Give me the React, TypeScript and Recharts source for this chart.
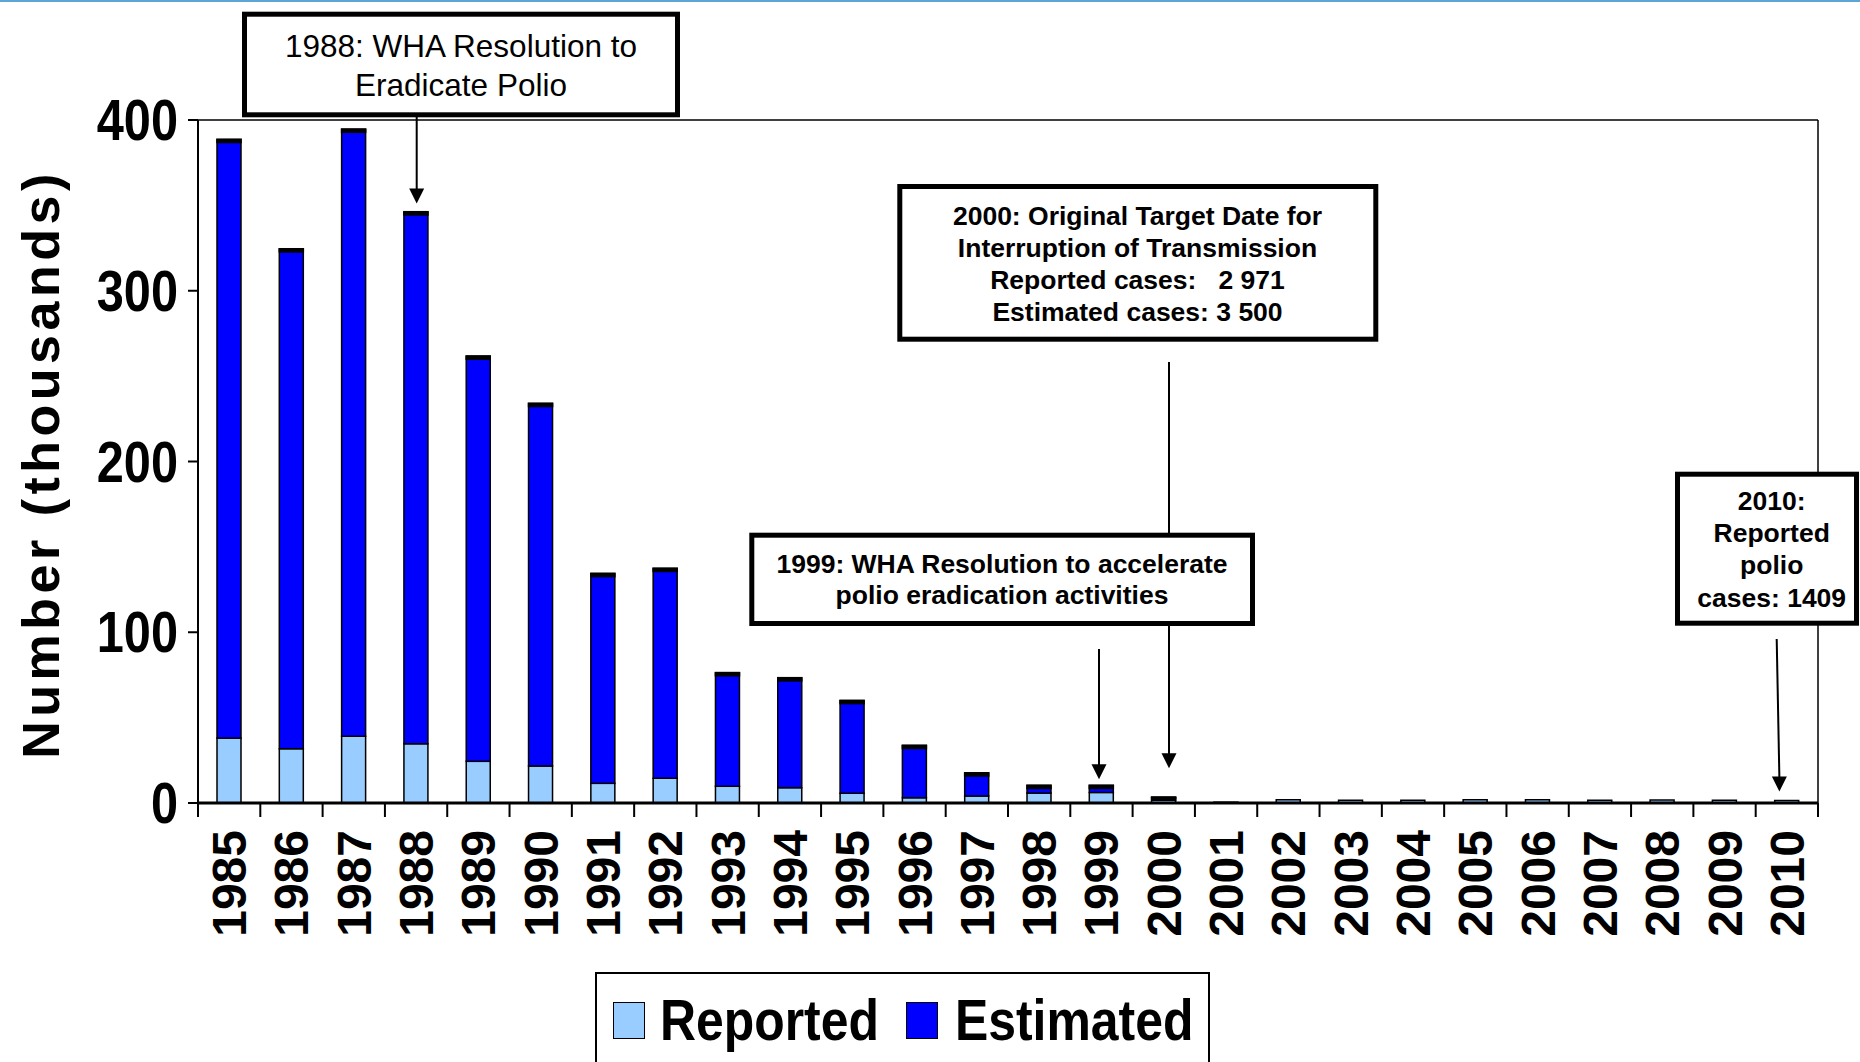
import React from 'react';
import { BarChart, Bar, XAxis, YAxis, ReferenceLine, Legend } from 'recharts';

// años y casos (miles)
const years = [
  '1985', '1986', '1987', '1988', '1989', '1990', '1991', '1992', '1993',
  '1994', '1995', '1996', '1997', '1998', '1999', '2000', '2001', '2002',
  '2003', '2004', '2005', '2006', '2007', '2008', '2009', '2010',
];
const reported = [
  38.0, 31.8, 39.1, 34.7, 24.4, 21.7, 11.5, 14.5, 9.8, 9.0, 5.7, 3.1, 4.1,
  5.8, 6.2, 3.0, 0.5, 1.9, 1.6, 1.6, 1.9, 1.9, 1.6, 1.7, 1.6, 1.4,
];
const estimated = [
  388.7, 324.6, 394.7, 346.3, 261.8, 234.1, 134.5, 137.5, 76.4, 73.4, 60.1,
  33.8, 17.7, 10.4, 10.4, 3.5, 0.5, 1.9, 1.6, 1.6, 1.9, 1.9, 1.6, 1.7, 1.6,
  1.4,
];
const yTicks = [0, 100, 200, 300, 400];
const legendOrder = ['Reported', 'Estimated'];

const data = years.map((y, i) => ({
  year: y,
  Reported: reported[i],
  Estimated: Math.max(0, estimated[i] - reported[i]),
}));

const W = 1860;
const H = 1062;
const PLOT_LEFT = 198;
const PLOT_RIGHT = 1818;
const PLOT_TOP = 120;
const PLOT_BOTTOM = 803;
const STEP = (PLOT_RIGHT - PLOT_LEFT) / years.length;

const SANS = "'Liberation Sans', Arial, sans-serif";

function YearTick(props: any) {
  const { x, payload, index } = props;
  const last = index === years.length - 1;
  return (
    <g>
      <line x1={x - STEP / 2} x2={x - STEP / 2} y1={PLOT_BOTTOM} y2={PLOT_BOTTOM + 14} stroke="#000" strokeWidth={2} />
      {last && (
        <line x1={x + STEP / 2} x2={x + STEP / 2} y1={PLOT_BOTTOM} y2={PLOT_BOTTOM + 14} stroke="#000" strokeWidth={2} />
      )}
      <text
        transform={`translate(${x + 17},${PLOT_BOTTOM + 27}) rotate(-90)`}
        textAnchor="end"
        fontFamily={SANS}
        fontWeight={700}
        fontSize={48}
        fill="#000"
      >
        {payload.value}
      </text>
    </g>
  );
}

// etiquetas del eje Y en negrita estrecha
function ValueTick(props: any) {
  const { x, y, payload } = props;
  return (
    <text
      transform={`translate(${x},${y + 20}) scale(0.84,1)`}
      textAnchor="end"
      fontFamily={SANS}
      fontWeight={700}
      fontSize={58}
      fill="#000"
    >
      {payload.value}
    </text>
  );
}

// barra estimada con el borde superior grueso negro
function EstimatedShape(props: any) {
  const { x, y, width, height, fill } = props;
  if (!height || height <= 0) return <g />;
  return (
    <g>
      <rect x={x} y={y} width={width} height={height} fill={fill} stroke="#000" strokeWidth={1.5} />
      <rect x={x - 0.75} y={y - 0.5} width={width + 1.5} height={4.5} fill="#000" />
    </g>
  );
}

function LegendBox(props: any) {
  const items = props.payload || [];
  const ordered = legendOrder
    .map((n) => items.find((it: any) => it.value === n))
    .filter(Boolean);
  return (
    <div
      style={{
        position: 'relative',
        width: 615,
        height: 100,
        boxSizing: 'border-box',
        border: '2px solid #000',
        background: '#fff',
      }}
    >
      {ordered.map((it: any, i: number) => (
        <React.Fragment key={it.value}>
          <div
            style={{
              position: 'absolute',
              left: i === 0 ? 16 : 309,
              top: 28,
              width: 32,
              height: 37,
              boxSizing: 'border-box',
              background: it.color,
              border: '1.5px solid #000',
            }}
          />
          <span
            style={{
              position: 'absolute',
              left: i === 0 ? 63 : 358,
              top: 13,
              fontFamily: SANS,
              fontWeight: 700,
              fontSize: 58,
              lineHeight: '66px',
              color: '#000',
              whiteSpace: 'nowrap',
              transform: 'scaleX(0.86)',
              transformOrigin: 'left center',
            }}
          >
            {it.value}
          </span>
        </React.Fragment>
      ))}
    </div>
  );
}

function Arrow({ x1, y1, x2, y2 }: { x1: number; y1: number; x2: number; y2: number }) {
  const head = 15;
  return (
    <g>
      <line x1={x1} y1={y1} x2={x2} y2={y2 - head + 2} stroke="#000" strokeWidth={2} />
      <polygon points={`${x2 - 7.5},${y2 - head} ${x2 + 7.5},${y2 - head} ${x2},${y2}`} fill="#000" />
    </g>
  );
}

function NoteBox({
  x, y, w, h, lines, cx, baselines, size, bold,
}: {
  x: number; y: number; w: number; h: number; lines: string[]; cx: number;
  baselines: number[]; size: number; bold: boolean;
}) {
  return (
    <g>
      <rect x={x} y={y} width={w} height={h} fill="#fff" stroke="#000" strokeWidth={5} />
      {lines.map((l, i) => (
        <text
          key={i}
          x={cx}
          y={baselines[i]}
          textAnchor="middle"
          fontFamily={SANS}
          fontWeight={bold ? 700 : 400}
          fontSize={size}
          fill="#000"
          style={{ whiteSpace: 'pre' }}
        >
          {l}
        </text>
      ))}
    </g>
  );
}

export default function App() {
  return (
    <div style={{ position: 'relative', width: W, height: H, background: '#fff' }}>
      <style>{'body{margin:0;overflow:hidden;background:#fff}'}</style>
      <BarChart
        width={W}
        height={H}
        data={data}
        margin={{ top: PLOT_TOP, right: W - PLOT_RIGHT, left: 0, bottom: 0 }}
        barSize={24}
      >
        <XAxis
          dataKey="year"
          height={H - PLOT_BOTTOM}
          interval={0}
          tickLine={false}
          tickSize={0}
          tickMargin={0}
          axisLine={{ stroke: '#000', strokeWidth: 3 }}
          tick={<YearTick />}
        />
        <YAxis
          domain={[0, 400]}
          ticks={yTicks}
          width={PLOT_LEFT}
          tickSize={10}
          tickMargin={10}
          axisLine={{ stroke: '#000', strokeWidth: 2 }}
          tickLine={{ stroke: '#000', strokeWidth: 2 }}
          tick={<ValueTick />}
        />
        <ReferenceLine y={400} stroke="#000" strokeWidth={1.5} />
        <Legend
          layout="horizontal"
          verticalAlign="middle"
          align="center"
          wrapperStyle={{ left: 595, top: 972, width: 615, height: 100 }}
          content={<LegendBox />}
        />
        <Bar
          dataKey="Reported"
          stackId="a"
          fill="#99CCFF"
          stroke="#000"
          strokeWidth={1.5}
          isAnimationActive={false}
        />
        <Bar
          dataKey="Estimated"
          stackId="a"
          fill="#0000FF"
          shape={<EstimatedShape />}
          isAnimationActive={false}
        />
      </BarChart>

      <svg
        width={W}
        height={H}
        style={{ position: 'absolute', left: 0, top: 0, pointerEvents: 'none' }}
      >
        <rect x={0} y={0} width={W} height={2} fill="#5DA5D6" />
        {/* borde derecho del área de trazado */}
        <line x1={PLOT_RIGHT} x2={PLOT_RIGHT} y1={PLOT_TOP} y2={PLOT_BOTTOM} stroke="#000" strokeWidth={1.5} />
        <text
          transform="translate(59,464) rotate(-90)"
          textAnchor="middle"
          fontFamily={SANS}
          fontWeight={700}
          fontSize={52}
          letterSpacing={4.5}
          fill="#000"
        >
          Number (thousands)
        </text>

        <Arrow x1={416.7} y1={117} x2={416.7} y2={203.5} />
        <Arrow x1={1169} y1={362} x2={1169} y2={768.3} />
        <Arrow x1={1099} y1={649} x2={1099} y2={779.3} />
        <Arrow x1={1776.7} y1={639} x2={1779.4} y2={791.5} />

        <NoteBox
          x={244.5} y={14.2} w={433} h={100.6}
          lines={['1988: WHA Resolution to', 'Eradicate Polio']}
          cx={461} baselines={[56.7, 95.7]} size={31.5} bold={false}
        />
        <NoteBox
          x={899.8} y={186.5} w={476} h={152.7}
          lines={[
            '2000: Original Target Date for',
            'Interruption of Transmission',
            'Reported cases:   2 971',
            'Estimated cases: 3 500',
          ]}
          cx={1137.5} baselines={[225, 257.3, 289.3, 321]} size={26.5} bold
        />
        <NoteBox
          x={751.8} y={535.2} w={500.7} h={88.3}
          lines={['1999: WHA Resolution to accelerate', 'polio eradication activities']}
          cx={1002} baselines={[573.3, 604]} size={26.5} bold
        />
        <NoteBox
          x={1677.5} y={474.2} w={179} h={149}
          lines={['2010:', 'Reported', 'polio', 'cases: 1409']}
          cx={1771.7} baselines={[510, 541.7, 574, 606.7]} size={26.5} bold
        />
      </svg>
    </div>
  );
}
